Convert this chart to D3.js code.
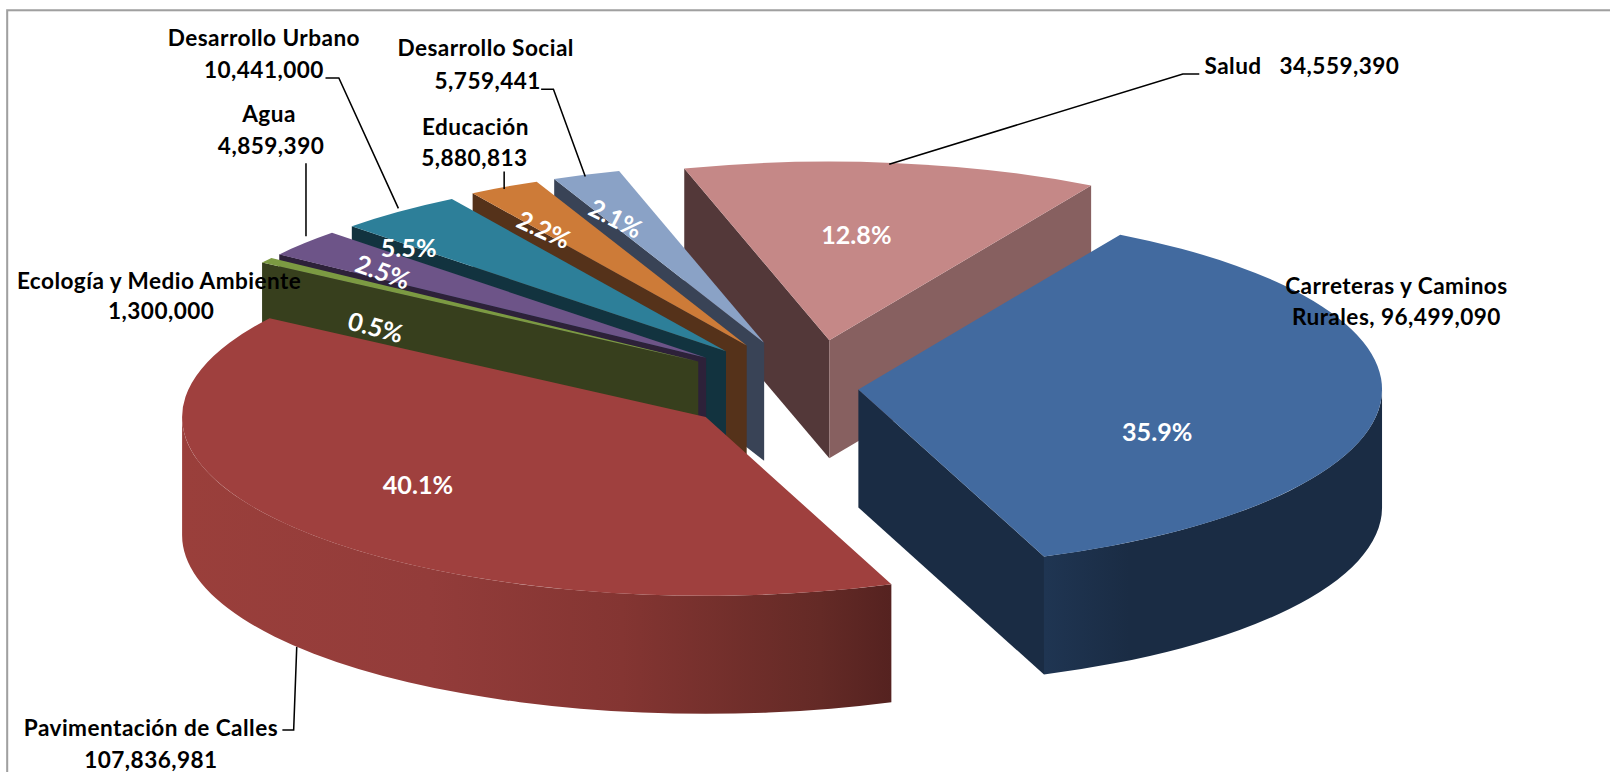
<!DOCTYPE html>
<html>
<head>
<meta charset="utf-8">
<script src="https://d3js.org/d3.v7.min.js"></script>
<style>
    html, body { margin: 0; padding: 0; background: #fff; overflow: hidden; }
    text { font-family: Lato, "Open Sans", sans-serif; font-weight: 700; }
</style>
</head>
<body>
<svg id="chart" width="1610" height="772"></svg>
<script>
// values, in chart order (clockwise)
const categories = ["Carreteras y Caminos Rurales", "Pavimentación de Calles", "Ecología y Medio Ambiente", "Agua",
    "Desarrollo Urbano", "Educación", "Desarrollo Social", "Salud"];
const amounts = [96499090, 107836981, 1300000, 4859390, 10441000, 5880813, 5759441, 34559390];
const percentLabels = ["35.9%", "40.1%", "0.5%", "2.5%", "5.5%", "2.2%", "2.1%", "12.8%"];
// slice sizes as drawn (the labelled 5.5% slice is only 3.9% wide in the picture)
const sliceShares = [35.9, 40.1, 0.5, 2.5, 3.9, 2.2, 2.1, 12.8];
const explosions = [0.0885, 0.26, 0.264, 0.264, 0.264, 0.27, 0.27, 0.27];

const topColors = ["#426a9f", "#9f403e", "#7c9a42", "#6d5488", "#2d7f99", "#cd7b38", "#8aa2c6", "#c58887"];
const startWallColors = ["#1a2c44", "#5a2523", "#373f1d", "#2d2139", "#12333f", "#55321a", "#394356", "#533839"];
const endWallColors = ["#1a2c44", "#5a2523", "#373f1d", "#2d2139", "#12333f", "#55321a", "#394356", "#876060"];

// the picture was measured at 1568 wide
const SCALE = 1610 / 1568;
const CENTER = {x: 791, y: 378};
const RX = 510, RY = 174, DEPTH = 115;
const START_ANGLE = 30 * Math.PI / 180;

const svg = d3.select("#chart");
const defs = svg.append("defs");

function addRimGradient(id, x1, x2, stops) {
    let gradient = defs.append("linearGradient")
        .attr("id", id)
        .attr("gradientUnits", "userSpaceOnUse")
        .attr("x1", x1).attr("x2", x2)
        .attr("y1", 0).attr("y2", 0);
    stops.forEach(s => gradient.append("stop").attr("offset", s[0]).attr("stop-color", s[1]));
}

addRimGradient("rim-red", 177, 868, [[0, "#9a3f3b"], [0.35, "#933c3a"], [0.62, "#843532"], [0.9, "#642a26"], [1, "#552220"]]);
addRimGradient("rim-blue", 1018, 1345, [[0, "#1f3552"], [0.25, "#1a2c44"], [1, "#1a2c44"]]);
const rimFills = ["url(#rim-blue)", "url(#rim-red)"];

const root = svg.append("g").attr("transform", "scale(" + SCALE + ")");

root.append("rect")
    .attr("x", 7).attr("y", 10)
    .attr("width", 1700).attr("height", 900)
    .attr("fill", "#fff")
    .attr("stroke", "#a0a0a0")
    .attr("stroke-width", 2);

const pie = d3.pie().sort(null).startAngle(START_ANGLE).endAngle(START_ANGLE + 2 * Math.PI);
const slices = pie(sliceShares);
const topArc = d3.arc().innerRadius(0).outerRadius(RX);
const polygon = d3.line().curve(d3.curveLinearClosed);

function rimPoint(apex, angle) {
    return [apex[0] + RX * Math.sin(angle), apex[1] - RY * Math.cos(angle)];
}

function drawWall(group, apex, angle, fill) {
    let rim = rimPoint(apex, angle);
    group.append("path")
        .attr("d", polygon([apex, rim, [rim[0], rim[1] + DEPTH], [apex[0], apex[1] + DEPTH]]))
        .attr("fill", fill);
}

// rim is seen only on the front half of the ellipse
function drawRim(group, apex, d, fill) {
    let from = Math.max(d.startAngle, Math.PI / 2);
    let to = Math.min(d.endAngle, 3 * Math.PI / 2);
    if (from >= to) return;
    let a = rimPoint(apex, from), b = rimPoint(apex, to);
    group.append("path")
        .attr("d", "M" + a + "A" + RX + "," + RY + " 0 0 1 " + b
            + "L" + [b[0], b[1] + DEPTH]
            + "A" + RX + "," + RY + " 0 0 0 " + [a[0], a[1] + DEPTH] + "Z")
        .attr("fill", fill);
}

// back to front: last slice first, blue on top
slices.slice().reverse().forEach(d => {
    let i = d.index;
    let mid = (d.startAngle + d.endAngle) / 2;
    let apex = [
        CENTER.x + explosions[i] * RX * Math.sin(mid),
        CENTER.y - explosions[i] * RY * Math.cos(mid)
    ];
    let group = root.append("g").attr("class", "slice");

    if (-Math.cos(d.startAngle - Math.PI / 2) > 0) drawWall(group, apex, d.startAngle, startWallColors[i]);
    if (-Math.cos(d.endAngle + Math.PI / 2) > 0) drawWall(group, apex, d.endAngle, endWallColors[i]);
    drawRim(group, apex, d, rimFills[i] || startWallColors[i]);

    group.append("path")
        .attr("d", topArc(d))
        .attr("transform", "translate(" + apex + ") scale(1," + (RY / RX) + ")")
        .attr("fill", topColors[i]);
});

// white percentages on the slices
const percentLayout = [
    {x: 1127, y: 420, rot: 0},
    {x: 407, y: 471, rot: 0},
    {x: 366, y: 318, rot: 15},
    {x: 373, y: 264, rot: 20},
    {x: 398, y: 241, rot: 0},
    {x: 530, y: 223, rot: 25},
    {x: 600, y: 212, rot: 27},
    {x: 834, y: 228, rot: 0}
];

root.append("g").selectAll("text")
    .data(percentLabels)
    .enter()
    .append("text")
    .attr("transform", (d, i) => "translate(" + percentLayout[i].x + "," + percentLayout[i].y + ") rotate(" + percentLayout[i].rot + ")")
    .attr("text-anchor", "middle")
    .attr("dominant-baseline", "central")
    .attr("fill", "#fff")
    .style("font-size", "24.5px")
    .text(d => d);

// outer labels
const fmt = d3.format(",");
const labelLayout = [
    {lines: ["Carreteras y Caminos", "Rurales, " + fmt(amounts[0])], x: [1360, 1360], y: [286, 317]},
    {lines: [categories[1], fmt(amounts[1])], x: [147, 147], y: [717, 748]},
    {lines: [categories[2], fmt(amounts[2])], x: [155, 157], y: [281, 311]},
    {lines: [categories[3], fmt(amounts[3])], x: [262, 264], y: [119, 150]},
    {lines: [categories[4], fmt(amounts[4])], x: [257, 257], y: [45, 76]},
    {lines: [categories[5], fmt(amounts[5])], x: [463, 462], y: [131, 162]},
    {lines: [categories[6], fmt(amounts[6])], x: [473, 475], y: [55, 87]},
    {lines: [categories[7] + "\u00a0\u00a0\u00a0" + fmt(amounts[7])], x: [1268], y: [72]}
];

const labels = root.append("g").selectAll("text")
    .data(labelLayout)
    .enter()
    .append("text")
    .attr("text-anchor", "middle")
    .attr("fill", "#000")
    .style("font-size", "22px")
    .style("letter-spacing", "0.45px");

labels.selectAll("tspan")
    .data((d) => d.lines.map((t, j) => ({t: t, x: d.x[j], y: d.y[j]})))
    .enter()
    .append("tspan")
    .attr("x", d => d.x)
    .attr("y", d => d.y)
    .text(d => d.t);

// leader lines
const leaders = [
    [[317, 76], [330, 76], [388, 203]],
    [[527, 87], [539, 87], [570, 172]],
    [[491, 167], [491, 184]],
    [[298, 159], [298, 230]],
    [[1168, 72], [1152, 72], [866, 160]],
    [[275, 711], [286, 711], [289, 630]]
];

root.append("g").selectAll("path")
    .data(leaders)
    .enter()
    .append("path")
    .attr("d", d3.line())
    .attr("fill", "none")
    .attr("stroke", "#000")
    .attr("stroke-width", 1.5);
</script>
</body>
</html>
